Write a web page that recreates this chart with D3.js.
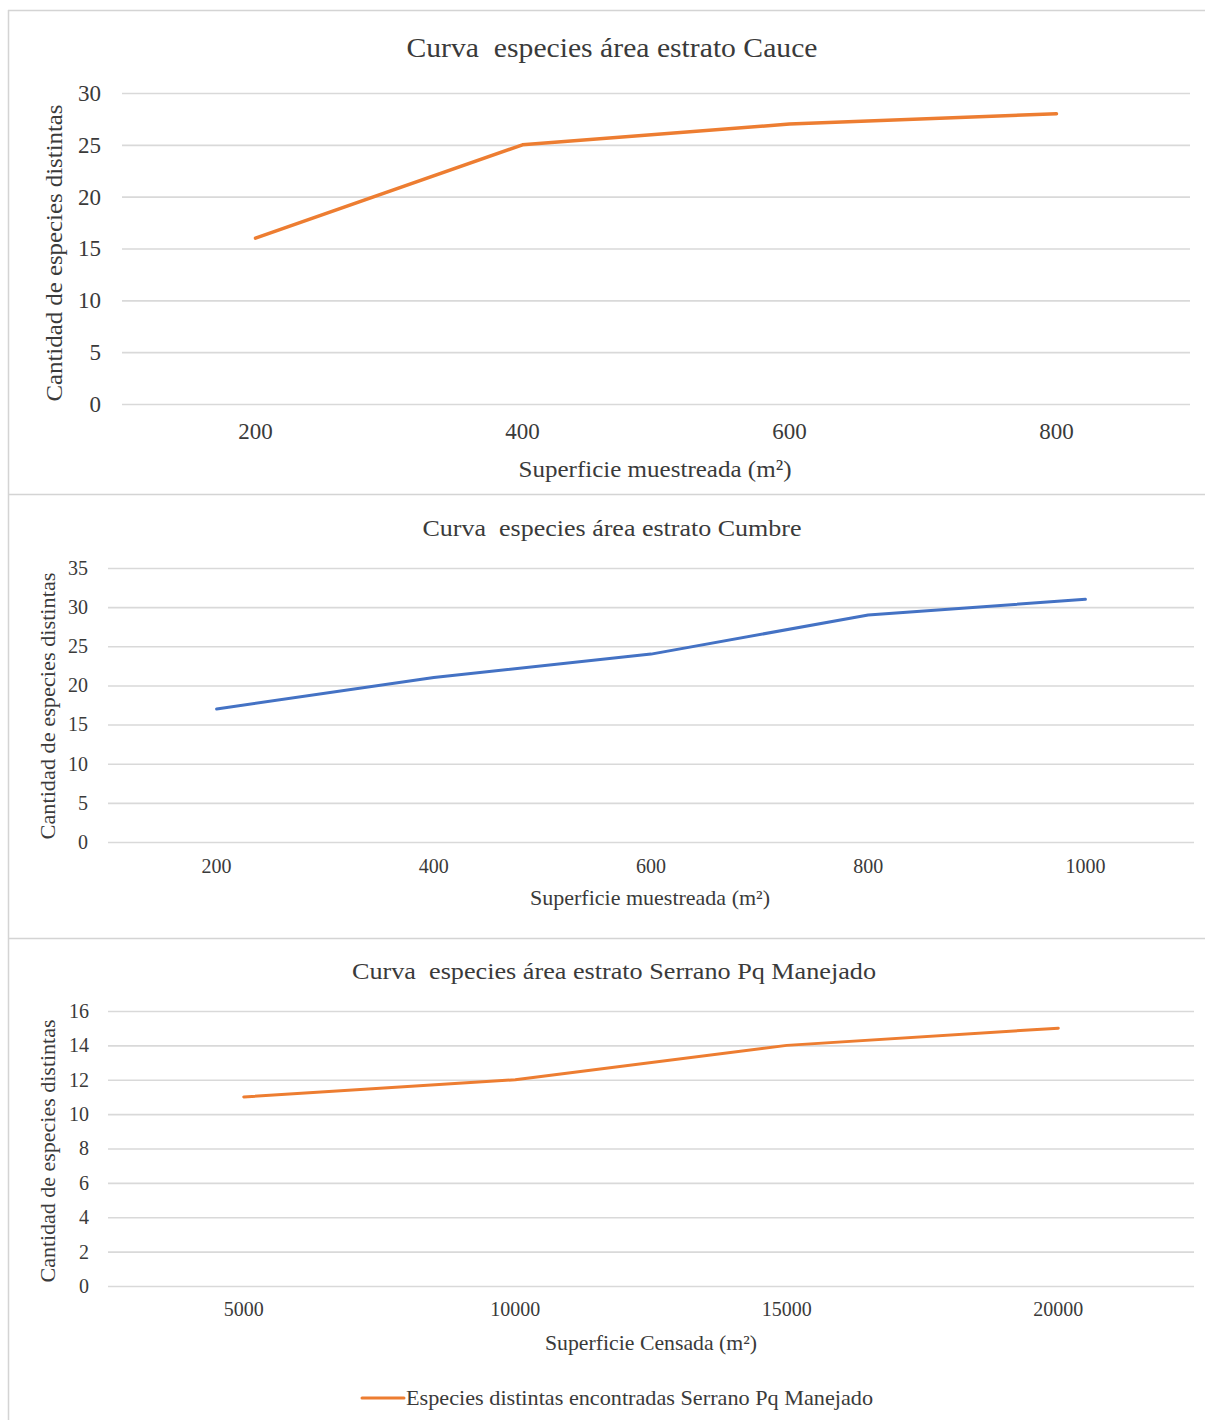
<!DOCTYPE html>
<html>
<head>
<meta charset="utf-8">
<script src="https://cdn.jsdelivr.net/npm/d3@7"></script>
<style>
  html, body { margin: 0; padding: 0; background: #fff; }
  svg { display: block; }
  text { font-family: "Liberation Serif", "Times New Roman", serif; fill: #3a3a3a; }
</style>
</head>
<body>
<svg id="chart" width="1205" height="1420"></svg>
<script>
// ---------- DATA ----------
const cauceCategories = ["200", "400", "600", "800"];
const cauceValues = [16, 25, 27, 28];
const cauceYTicks = [0, 5, 10, 15, 20, 25, 30];

const cumbreCategories = ["200", "400", "600", "800", "1000"];
const cumbreValues = [17, 21, 24, 29, 31];
const cumbreYTicks = [0, 5, 10, 15, 20, 25, 30, 35];

const serranoCategories = ["5000", "10000", "15000", "20000"];
const serranoValues = [11, 12, 14, 15];
const serranoYTicks = [0, 2, 4, 6, 8, 10, 12, 14, 16];

const titles = [
  "Curva  especies área estrato Cauce",
  "Curva  especies área estrato Cumbre",
  "Curva  especies área estrato Serrano Pq Manejado"
];
const yTitle = "Cantidad de especies distintas";
const xTitles = ["Superficie muestreada (m²)", "Superficie muestreada (m²)", "Superficie Censada (m²)"];
const legendLabel = "Especies distintas encontradas Serrano Pq Manejado";

// ---------- DRAW ----------
const svg = d3.select("#chart");

// frame
const frameColor = "#d4d4d4";
svg.append("line").attr("x1", 8).attr("x2", 1205).attr("y1", 10.5).attr("y2", 10.5).attr("stroke", frameColor).attr("stroke-width", 1.5);
svg.append("line").attr("x1", 8.5).attr("x2", 8.5).attr("y1", 10).attr("y2", 1420).attr("stroke", frameColor).attr("stroke-width", 1.5);
svg.append("line").attr("x1", 8).attr("x2", 1205).attr("y1", 494.5).attr("y2", 494.5).attr("stroke", frameColor).attr("stroke-width", 1.5);
svg.append("line").attr("x1", 8).attr("x2", 1205).attr("y1", 938.5).attr("y2", 938.5).attr("stroke", frameColor).attr("stroke-width", 1.5);

function drawChart(cfg) {
  const g = svg.append("g");
  const x = d3.scaleBand().domain(cfg.categories).range([cfg.left, cfg.right]).paddingInner(0).paddingOuter(0);
  const y = d3.scaleLinear().domain([0, cfg.yMax]).range([cfg.bottom, cfg.top]);

  // gridlines
  const grid = g.append("g").attr("transform", `translate(${cfg.left},0)`)
    .call(d3.axisLeft(y).tickValues(cfg.yTicks).tickSize(-(cfg.right - cfg.left)).tickFormat(""));
  grid.select(".domain").remove();
  grid.selectAll(".tick line").attr("stroke", "#d9d9d9").attr("stroke-width", 1.6);

  // y tick labels
  const ya = g.append("g").attr("transform", `translate(${cfg.yLabelX},0)`)
    .call(d3.axisLeft(y).tickValues(cfg.yTicks).tickSize(0).tickPadding(0));
  ya.select(".domain").remove();
  ya.selectAll("text").style("font-size", cfg.tickSize + "px").style("font-family", '"Liberation Serif", serif').attr("fill", "#3a3a3a");

  // x tick labels
  const xa = g.append("g").attr("transform", `translate(0,${cfg.xLabelY})`)
    .call(d3.axisBottom(x).tickSize(0).tickPadding(0));
  xa.select(".domain").remove();
  xa.selectAll("text").style("font-size", cfg.tickSize + "px").style("font-family", '"Liberation Serif", serif').attr("fill", "#3a3a3a").attr("dy", "0.71em");

  // line
  const line = d3.line()
    .x((d, i) => x(cfg.categories[i]) + x.bandwidth() / 2)
    .y(d => y(d));
  g.append("path").datum(cfg.values)
    .attr("d", line).attr("fill", "none")
    .attr("stroke", cfg.color).attr("stroke-width", cfg.lineWidth)
    .attr("stroke-linejoin", "round").attr("stroke-linecap", "round");

  // title
  g.append("text").attr("x", cfg.titleX).attr("y", cfg.titleY).attr("text-anchor", "middle")
    .style("font-size", cfg.titleSize + "px")
    .attr("textLength", cfg.titleLen).attr("lengthAdjust", "spacingAndGlyphs")
    .style("white-space", "pre").text(cfg.title);

  // y title
  g.append("text").attr("transform", `translate(${cfg.yTitleX},${cfg.yTitleY}) rotate(-90)`)
    .attr("text-anchor", "middle").attr("dy", "0.35em")
    .style("font-size", cfg.axisTitleSize + "px")
    .attr("textLength", cfg.yTitleLen).attr("lengthAdjust", "spacingAndGlyphs")
    .text(yTitle);

  // x title
  g.append("text").attr("x", cfg.xTitleX).attr("y", cfg.xTitleY).attr("text-anchor", "middle")
    .style("font-size", cfg.axisTitleSize + "px")
    .attr("textLength", cfg.xTitleLen).attr("lengthAdjust", "spacingAndGlyphs")
    .text(cfg.xTitle);
  return { x, y };
}

drawChart({
  categories: cauceCategories, values: cauceValues, yTicks: cauceYTicks, yMax: 30,
  left: 122, right: 1190, top: 93, bottom: 404,
  color: "#ED7D31", lineWidth: 3.5,
  tickSize: 23, yLabelX: 101, xLabelY: 423,
  title: titles[0], titleX: 612, titleY: 57, titleSize: 27, titleLen: 411,
  yTitleX: 54, yTitleY: 253, yTitleLen: 297,
  xTitle: xTitles[0], xTitleX: 655, xTitleY: 477, xTitleLen: 273, axisTitleSize: 24
});

drawChart({
  categories: cumbreCategories, values: cumbreValues, yTicks: cumbreYTicks, yMax: 35,
  left: 108, right: 1194, top: 568, bottom: 842,
  color: "#4472C4", lineWidth: 3,
  tickSize: 20, yLabelX: 88, xLabelY: 859,
  title: titles[1], titleX: 612, titleY: 536, titleSize: 24, titleLen: 379,
  yTitleX: 48, yTitleY: 706, yTitleLen: 267,
  xTitle: xTitles[1], xTitleX: 650, xTitleY: 905, xTitleLen: 240, axisTitleSize: 21
});

drawChart({
  categories: serranoCategories, values: serranoValues, yTicks: serranoYTicks, yMax: 16,
  left: 108, right: 1194, top: 1011, bottom: 1286,
  color: "#ED7D31", lineWidth: 3,
  tickSize: 20, yLabelX: 89, xLabelY: 1302,
  title: titles[2], titleX: 614, titleY: 979, titleSize: 24, titleLen: 524,
  yTitleX: 48, yTitleY: 1151, yTitleLen: 263,
  xTitle: xTitles[2], xTitleX: 651, xTitleY: 1350, xTitleLen: 212, axisTitleSize: 21
});

// legend
const leg = svg.append("g");
leg.append("line").attr("x1", 362).attr("x2", 404).attr("y1", 1398).attr("y2", 1398)
  .attr("stroke", "#ED7D31").attr("stroke-width", 3).attr("stroke-linecap", "round");
leg.append("text").attr("x", 406).attr("y", 1405).style("font-size", "21px")
  .attr("textLength", 467).attr("lengthAdjust", "spacingAndGlyphs").text(legendLabel);
</script>
</body>
</html>
